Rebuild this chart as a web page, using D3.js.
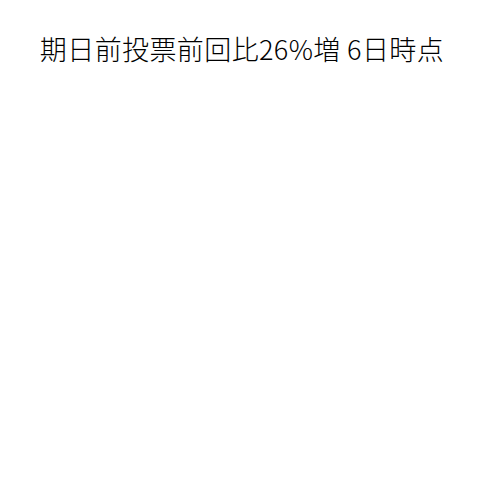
<!DOCTYPE html>
<html>
<head>
<meta charset="utf-8">
<title>期日前投票</title>
<script src="https://cdn.jsdelivr.net/npm/d3@7"></script>
<style>
  body { margin: 0; background: #fff; }
</style>
</head>
<body>
<div id="chart"></div>
<script>
    // the reference shows only its title, no marks
    var titleText = "期日前投票前回比26%増 6日時点";
    var categories = [];
    var values = [];

    var width = 500, height = 500;

    var svg = d3.select("#chart").append("svg")
        .attr("width", width)
        .attr("height", height);

    svg.append("rect")
        .attr("width", width)
        .attr("height", height)
        .attr("fill", "#fff");

    svg.append("text")
        .attr("class", "title")
        .attr("x", 242)
        .attr("y", 60)
        .attr("text-anchor", "middle")
        .style("font-family", "'Noto Sans CJK JP', sans-serif")
        .style("font-size", "27px")
        .style("font-weight", 300)
        .style("letter-spacing", "0.4px")
        .style("fill", "#000")
        .text(titleText);

    var x = d3.scaleBand().domain(categories).range([40, 460]);
    var y = d3.scaleLinear().domain([0, 1]).range([460, 100]);

    svg.selectAll(".bar")
        .data(values)
        .enter().append("rect")
        .attr("class", "bar")
        .attr("x", function(d, i) { return x(categories[i]); })
        .attr("y", function(d) { return y(d); })
        .attr("width", x.bandwidth())
        .attr("height", function(d) { return y(0) - y(d); });
</script>
</body>
</html>
